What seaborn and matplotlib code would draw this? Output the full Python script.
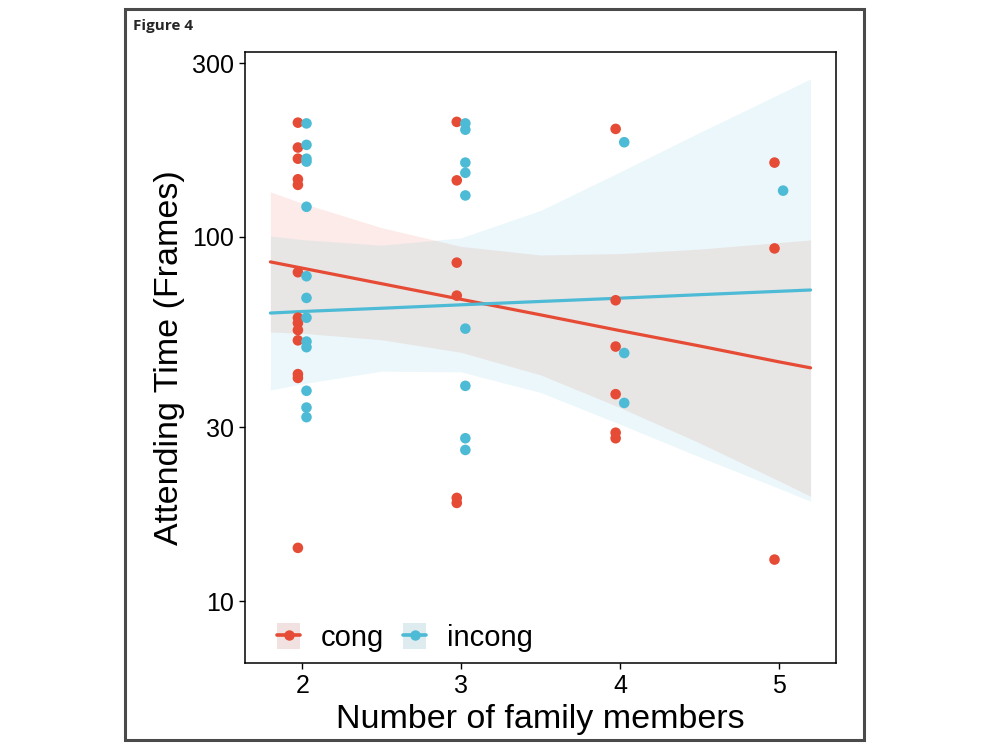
import matplotlib
matplotlib.use("Agg")
import matplotlib.pyplot as plt
import numpy as np
import pandas as pd
import seaborn as sns
from matplotlib.lines import Line2D
from matplotlib.patches import Patch, Rectangle
from matplotlib.ticker import NullLocator

# ---------------- data ----------------
conditions = ["cong", "incong"]

cong_x = [2, 2, 2, 2, 2, 2, 2, 2, 2, 2, 2, 2, 2,
          3, 3, 3, 3, 3, 3,
          4, 4, 4, 4, 4, 4,
          5, 5, 5]
cong_y = [206, 176, 164, 144, 139, 80, 60, 58, 55.5, 52, 42, 41, 14,
          207, 143, 85, 69, 19.2, 18.6,
          198, 67, 50, 37, 29, 28,
          160, 93, 13]

incong_x = [2, 2, 2, 2, 2, 2, 2, 2, 2, 2, 2, 2, 2,
            3, 3, 3, 3, 3, 3, 3, 3, 3,
            4, 4, 4,
            5]
incong_y = [205, 179, 164, 161, 121, 78, 68, 60, 51.6, 49.8, 37.8, 34, 32,
            205, 197, 160, 150, 130, 56, 39, 28, 26,
            182, 48, 35,
            134]

# fitted lines and confidence bands, read at these x positions
fit_x = [1.8, 2.0, 2.5, 3.0, 3.5, 4.0, 4.5, 5.0, 5.2]
cong_fit = [85.4, 82.1, 74.4, 67.4, 61.1, 55.3, 50.2, 45.4, 43.7]
cong_lo = [54.8, 54.4, 52.2, 48.2, 41.8, 34.0, 27.2, 21.4, 19.4]
cong_hi = [132.9, 123.8, 106.0, 94.2, 89.2, 90.0, 92.6, 96.5, 98.1]
incong_fit = [61.8, 62.4, 63.7, 65.1, 66.5, 67.9, 69.4, 70.9, 71.5]
incong_lo = [38.0, 39.5, 42.8, 42.6, 37.4, 30.6, 24.9, 20.4, 18.8]
incong_hi = [100.6, 98.3, 94.9, 99.4, 118.2, 150.8, 193.4, 246.5, 271.7]

x_ticks = [2, 3, 4, 5]
y_ticks = [10, 30, 100, 300]
y_tick_labels = ["10", "30", "100", "300"]

x_label = "Number of family members"
y_label = "Attending Time (Frames)"
fig_label = "Figure 4"

# ---------------- styling ----------------
palette = {"cong": "#E64B35", "incong": "#4DBBD5"}
key_bg = {"cong": "#F1E2E1", "incong": "#DFECEF"}
dodge = {"cong": -0.027, "incong": 0.027}

sns.set_theme(style="ticks")
plt.rcParams["font.family"] = ["Liberation Sans", "DejaVu Sans"]

pts = pd.concat([
    pd.DataFrame({"x": cong_x, "y": cong_y, "condition": "cong"}),
    pd.DataFrame({"x": incong_x, "y": incong_y, "condition": "incong"}),
], ignore_index=True)
pts["xd"] = pts["x"] + pts["condition"].map(dodge)

fits = pd.concat([
    pd.DataFrame({"x": fit_x, "fit": cong_fit, "lo": cong_lo, "hi": cong_hi, "condition": "cong"}),
    pd.DataFrame({"x": fit_x, "fit": incong_fit, "lo": incong_lo, "hi": incong_hi, "condition": "incong"}),
], ignore_index=True)

fig = plt.figure(figsize=(9.9, 7.43), dpi=100)
ax = fig.add_axes([245 / 990, (743 - 663) / 743, (836 - 245) / 990, (663 - 52) / 743])
ax.set_yscale("log")

for cond in conditions:
    d = fits[fits["condition"] == cond]
    ax.fill_between(d["x"], d["lo"], d["hi"], color=palette[cond], alpha=0.11, lw=0, zorder=1)

sns.lineplot(data=fits, x="x", y="fit", hue="condition", palette=palette,
             linewidth=2.3, legend=False, estimator=None, sort=False, ax=ax, zorder=2)
sns.scatterplot(data=pts, x="xd", y="y", hue="condition", palette=palette,
                s=58, linewidth=0, legend=False, ax=ax, zorder=3)

ax.set_xlim(1.64, 5.36)
ax.set_ylim(6.76, 322)
ax.set_xticks(x_ticks)
ax.set_xticklabels([str(t) for t in x_ticks])
ax.set_yticks(y_ticks)
ax.set_yticklabels(y_tick_labels)
ax.yaxis.set_minor_locator(NullLocator())
ax.tick_params(axis="both", length=4, width=1, labelsize=18, colors="black", pad=4)

for sp in ax.spines.values():
    sp.set_visible(True)
    sp.set_color("black")
    sp.set_linewidth(1.1)

ax.set_xlabel(x_label, fontsize=24.5, labelpad=4, color="black")
ax.set_ylabel(y_label, fontsize=24.5, labelpad=5, color="black")

handles = [(Patch(facecolor=key_bg[c], edgecolor="none"),
            Line2D([], [], color=palette[c], lw=2.6, marker="o", markersize=6.5))
           for c in conditions]
ax.legend(handles, conditions, loc="lower left", bbox_to_anchor=(0.054, 0.018),
          ncol=2, frameon=False, fontsize=21, handlelength=0.8, handleheight=0.95,
          handletextpad=0.7, columnspacing=0.65, borderpad=0, borderaxespad=0,
          labelcolor="black")

fig.patches.append(Rectangle((125 / 990, (743 - 740) / 743), (864 - 125) / 990, (740 - 9) / 743,
                             transform=fig.transFigure, fill=False,
                             edgecolor="#4a4a4a", linewidth=2.2))
fig.text(133 / 990, 1 - 26 / 743, fig_label, fontsize=11, fontweight="bold",
         ha="left", va="center", family=["Open Sans", "DejaVu Sans"])

fig.savefig("out.png", dpi=100)
